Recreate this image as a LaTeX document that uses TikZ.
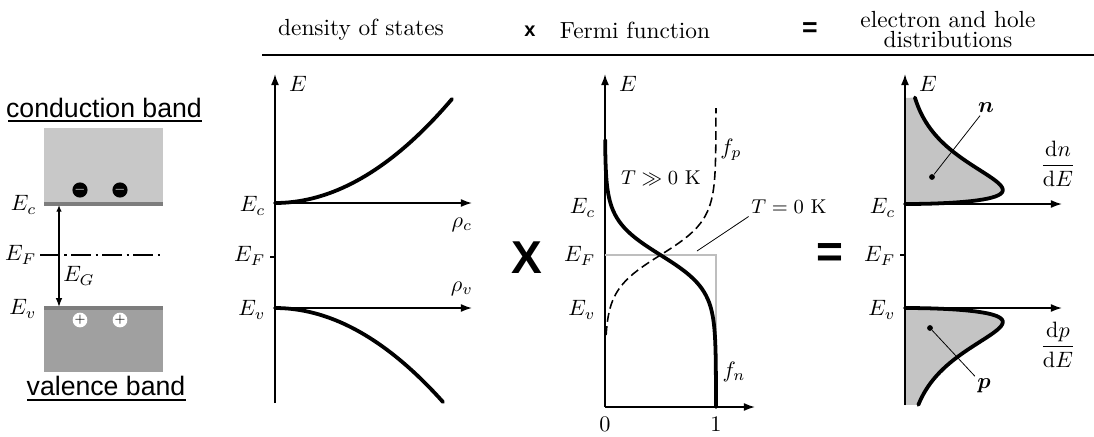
\documentclass[tikz,border=0pt]{standalone}
\usepackage{fontspec}
\setsansfont{Liberation Sans}
\usepackage{amsmath}
\usetikzlibrary{arrows.meta}
\definecolor{bandlight}{RGB}{200,200,200}
\definecolor{banddark}{RGB}{160,160,160}
\definecolor{edgegray}{RGB}{125,125,125}
\definecolor{stepgray}{RGB}{190,190,190}
\definecolor{distgray}{RGB}{196,196,196}

\begin{document}
\begin{tikzpicture}[x=0.45pt, y=-0.45pt,
      axis/.style={draw=black, line width=0.7pt, -{Latex[length=5pt,width=3.6pt]}},
      curve/.style={draw=black, line width=1.7pt, line cap=round},
      lvl/.style={font=\normalsize, anchor=east, inner sep=1pt},
      lbl/.style={font=\normalsize, inner sep=1pt},
      head/.style={font=\fontsize{10.5}{12}\selectfont, inner sep=1pt},
      band/.style={font=\sffamily\large, inner sep=1pt},
      bigop/.style={font=\sffamily\bfseries\huge, inner sep=0pt},
      leader/.style={draw=black, line width=0.35pt},
      electron/.style={circle, fill=black, inner sep=0pt, minimum size=5.5pt, text=white, font=\bfseries\tiny},
      hole/.style={circle, fill=white, inner sep=0pt, minimum size=5.5pt, font=\bfseries\tiny}
  ]
      \useasboundingbox (0,0) rectangle (1094,436);

      % Titres
      \node[head] (hdos) at (361,30) {density of states};
      \node[head, font=\sffamily\bfseries\small] (htimes) at (530,31) {x};
      \node[head] (hfermi) at (635,30) {Fermi function};
      \node[head, font=\sffamily\bfseries\large] (heq) at (810,30) {=};
      \node[head, align=center] (hdist) at (948,30) {electron and hole\\[-3pt] distributions};
      \coordinate (rulel) at (262,55);
      \coordinate (ruler) at (1094,55);
      \draw[line width=0.6pt] (rulel) -- (ruler);

      % Bandes
      \node[band] (cb) at (104,108) {conduction band};
      \draw[line width=0.6pt] (8,121) -- (202,121);
      \fill[bandlight] (44,128) rectangle (163,204);
      \fill[banddark] (44,308) rectangle (163,372);
      \draw[edgegray, line width=1.6pt] (44,204) -- (163,204);
      \draw[edgegray, line width=1.6pt] (44,308) -- (163,308);
      \node[band] (vb) at (106,386) {valence band};
      \draw[line width=0.6pt] (27,400) -- (186,400);
      \node[electron] (el1) at (80,190) {$-$};
      \node[electron] (el2) at (120,190) {$-$};
      \node[hole] (ho1) at (80,320) {$+$};
      \node[hole] (ho2) at (120,320) {$+$};
      \node[lvl] (lc0) at (39,205) {$E_c$};
      \node[lvl] (lf0) at (39,255) {$E_F$};
      \node[lvl] (lv0) at (39,309) {$E_v$};
      \draw[line width=0.6pt, dash pattern=on 9pt off 2pt on 1pt off 2pt] (40,255) -- (160,255);
      \coordinate (gtop) at (59,205);
      \coordinate (gbot) at (59,307);
      \draw[line width=0.7pt, {Latex[length=3pt,width=2.5pt]}-{Latex[length=4pt,width=3pt]}] (gtop) -- (gbot);
      \node[lbl] (eg) at (79,276) {$E_G$};

      % Densite d'etats
      \coordinate (o1) at (275,403);
      \coordinate (e1) at (275,74);
      \draw[axis] (o1) -- (e1);
      \node[lbl] (le1) at (298,84) {$E$};
      \coordinate (c1) at (275,203);
      \coordinate (c1r) at (472,203);
      \coordinate (v1) at (275,308);
      \coordinate (v1r) at (472,308);
      \draw[axis] (c1) -- (c1r);
      \draw[axis] (v1) -- (v1r);
      \draw[line width=0.6pt] (270,257) -- (275,257);
      \node[lvl] (lc1) at (268,206) {$E_c$};
      \node[lvl] (lf1) at (268,256) {$E_F$};
      \node[lvl] (lv1) at (268,310) {$E_v$};
      \node[lbl] (rc) at (462,225) {$\rho_c$};
      \node[lbl] (rv) at (462,289) {$\rho_v$};
      \draw[curve] plot[domain=0:177, samples=40] ({275+\x}, {203-104*(\x/177)^2});
      \draw[curve] plot[domain=0:168, samples=40] ({275+\x}, {308+94*(\x/168)^2});

      \node[bigop] (times) at (527,258) {X};

      % Fonction de Fermi
      \coordinate (o2) at (605,407);
      \coordinate (e2) at (605,74);
      \coordinate (x2) at (755,407);
      \draw[axis] (o2) -- (e2);
      \draw[axis] (o2) -- (x2);
      \node[lbl] (le2) at (628,84) {$E$};
      \node[lbl] (zero) at (605,424) {0};
      \node[lbl] (one) at (716,424) {1};
      \node[lvl] (lc2) at (598,208) {$E_c$};
      \node[lvl] (lf2) at (598,256) {$E_F$};
      \node[lvl] (lv2) at (598,310) {$E_v$};
      \draw[stepgray, line width=1.2pt] (605,255) -- (716,255) -- (716,407);
      \draw[line width=0.7pt, dash pattern=on 4pt off 2pt]
          plot[domain=335:108, samples=60] ({605+111/(1+exp((\x-255)/17.5))}, \x);
      \draw[curve] plot[domain=140:407, samples=80] ({605+111/(1+exp((255-\x)/17.5))}, \x);
      \node[lbl, font=\small] (thot) at (661,178) {$T\gg0$ K};
      \node[lbl, font=\small] (tzero) at (789,207) {$T=0$ K};
      \coordinate (tzl) at (697,251);
      \draw[leader] (tzero.south west) -- (tzl);
      \node[lbl] (fp) at (731,150) {$f_p$};
      \node[lbl] (fn) at (734,372) {$f_n$};

      \node[bigop] (equals) at (830,256) {=};

      % Distributions
      \coordinate (o3) at (905,405);
      \coordinate (e3) at (905,74);
      \coordinate (c3) at (905,204);
      \coordinate (c3r) at (1062,204);
      \coordinate (v3) at (905,308);
      \coordinate (v3r) at (1062,308);
      \fill[distgray] (c3) -- plot[domain=0:1.95, samples=50] ({905+228*\x*exp(-\x*\x)}, {204-28*\x*\x}) -- (905,98) -- cycle;
      \fill[distgray] (v3) -- plot[domain=0:1.86, samples=50] ({905+228*\x*exp(-\x*\x)}, {308+28*\x*\x}) -- (905,405) -- cycle;
      \draw[axis] (o3) -- (e3);
      \draw[axis] (c3) -- (c3r);
      \draw[axis] (v3) -- (v3r);
      \draw[curve] plot[domain=0:1.95, samples=50] ({905+228*\x*exp(-\x*\x)}, {204-28*\x*\x});
      \draw[curve] plot[domain=0:1.86, samples=50] ({905+228*\x*exp(-\x*\x)}, {308+28*\x*\x});
      \draw[line width=0.6pt] (900,255) -- (905,255);
      \node[lbl] (le3) at (928,84) {$E$};
      \node[lvl] (lc3) at (898,208) {$E_c$};
      \node[lvl] (lf3) at (898,256) {$E_F$};
      \node[lvl] (lv3) at (898,310) {$E_v$};
      \node[lbl] (dn) at (1058,164) {$\dfrac{\mathrm{d}n}{\mathrm{d}E}$};
      \node[lbl] (dp) at (1058,345) {$\dfrac{\mathrm{d}p}{\mathrm{d}E}$};
      \node[lbl] (nl) at (986,108) {$\boldsymbol{n}$};
      \node[lbl] (pl) at (984,386) {$\boldsymbol{p}$};
      \node[circle, fill=black, inner sep=0pt, minimum size=2.6pt] (nd) at (932,177) {};
      \node[circle, fill=black, inner sep=0pt, minimum size=2.6pt] (pd) at (930,328) {};
      \draw[leader] (nd) -- (nl);
      \draw[leader] (pd) -- (pl);
  \end{tikzpicture}
\end{document}
